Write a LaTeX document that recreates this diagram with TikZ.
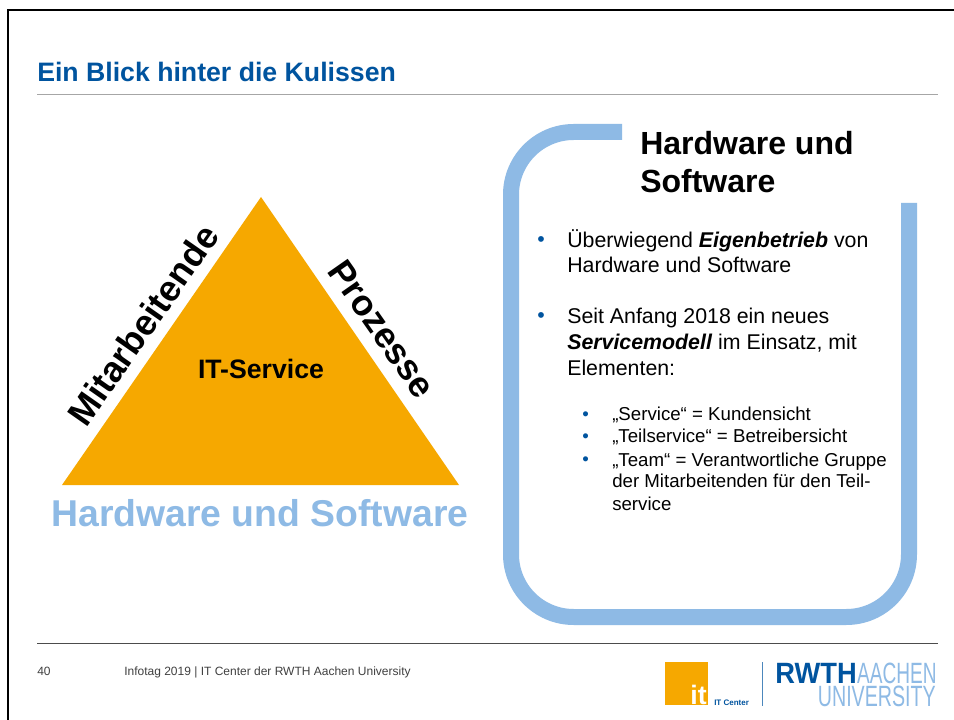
\documentclass[tikz,border=0pt]{standalone}
\usepackage{fontspec}
\setmainfont{Liberation Sans}
\definecolor{rwthblue}{HTML}{00549F}
\definecolor{lightblue}{HTML}{8EBAE5}
\definecolor{itorange}{HTML}{F6A800}
\definecolor{rulegray}{HTML}{A6A6A6}
\newcommand{\fsz}[1]{\fontsize{#1}{#1}\selectfont}
\tikzset{
  txt/.style={inner sep=0pt,anchor=base west},
  bul/.style={inner sep=0pt,anchor=base west,text=rwthblue},
  body/.style={txt,font=\fsz{16}},
  sub/.style={txt,font=\fsz{14}},
  side/.style={inner sep=0pt,font=\fsz{27}\bfseries},
}
\begin{document}
\begin{tikzpicture}[x=0.75pt,y=-0.75pt]
\useasboundingbox (0,0) rectangle (954,720);
\fill[white] (0,0) rectangle (954,720);
\draw[black,line width=1.5pt] (954,10) -- (8,10) -- (8,720);
\node[txt,text=rwthblue,font=\fsz{20}\bfseries] (title) at (37,82) {Ein Blick hinter die Kulissen};
\coordinate (r1a) at (37,95); \coordinate (r1b) at (938,95);
\draw[rulegray,line width=0.75pt] (r1a) -- (r1b);
% triangle
\fill[itorange] (261,197) -- (62,485) -- (459,485) -- cycle;
\node[font=\fsz{20}\bfseries,inner sep=0pt] (its) at (261,369) {IT-Service};
\node[side,rotate=55] (mit) at (143,325) {Mitarbeitende};
\node[side,rotate=-55] (pro) at (382,329) {Prozesse};
\node[inner sep=0pt,text=lightblue,font=\fsz{28}\bfseries] (hw) at (260,513) {Hardware und Software};
% bracket
\draw[lightblue,line width=12pt,rounded corners=47pt] (622,132) -- (511,132) -- (511,617) -- (909,617) -- (909,203);
\node[txt,font=\fsz{24}\bfseries] (h1) at (640,155) {Hardware und};
\node[txt,font=\fsz{24}\bfseries] (h2) at (640,193) {Software};
% bullets
\node[bul,font=\fsz{16}] (b1) at (537,247) {•};
\node[body] (t1a) at (567,248) {Überwiegend \textbf{\textit{Eigenbetrieb}} von};
\node[body] (t1b) at (567,273) {Hardware und Software};
\node[bul,font=\fsz{16}] (b2) at (537,323) {•};
\node[body] (t2a) at (567,324) {Seit Anfang 2018 ein neues};
\node[body] (t2b) at (567,350) {\textbf{\textit{Servicemodell}} im Einsatz, mit};
\node[body] (t2c) at (567,376) {Elementen:};
\node[bul,font=\fsz{14}] (s1) at (582,421) {•};
\node[sub] (u1) at (612,421) {„Service“ = Kundensicht};
\node[bul,font=\fsz{14}] (s2) at (582,443) {•};
\node[sub] (u2) at (612,443) {„Teilservice“ = Betreibersicht};
\node[bul,font=\fsz{14}] (s3) at (582,465) {•};
\node[sub] (u3) at (612,466) {„Team“ = Verantwortliche Gruppe};
\node[sub] (u4) at (612,488) {der Mitarbeitenden für den Teil-};
\node[sub] (u5) at (612,510) {service};
% footer
\coordinate (r2a) at (37,643); \coordinate (r2b) at (938,643);
\draw[black!70,line width=0.75pt] (r2a) -- (r2b);
\node[txt,font=\fsz{9},text=black!75] (pg) at (37,675) {40};
\node[txt,font=\fsz{9},text=black!75] (ft) at (124,675) {Infotag 2019 | IT Center der RWTH Aachen University};
% logos
\fill[itorange] (665,662) rectangle (708,705);
\node[inner sep=0pt,anchor=base east,text=white,font=\fsz{20}\bfseries] (it) at (707,704) {it};
\node[txt,text=rwthblue,font=\fsz{6}\bfseries] (itc) at (714,705) {IT Center};
\draw[rwthblue!70,line width=0.75pt] (762,662) -- (762,706);
\node[inner sep=0pt,anchor=base east,text=rwthblue,font=\fsz{22}\bfseries,xscale=.93] (rw) at (857,683) {RWTH};
\node[inner sep=0pt,anchor=base west,text=lightblue,font=\fsz{22},xscale=.65] (aa) at (857,683) {AACHEN};
\node[inner sep=0pt,anchor=base east,text=lightblue,font=\fsz{22},xscale=.67] (un) at (936,706) {UNIVERSITY};
\end{tikzpicture}
\end{document}
